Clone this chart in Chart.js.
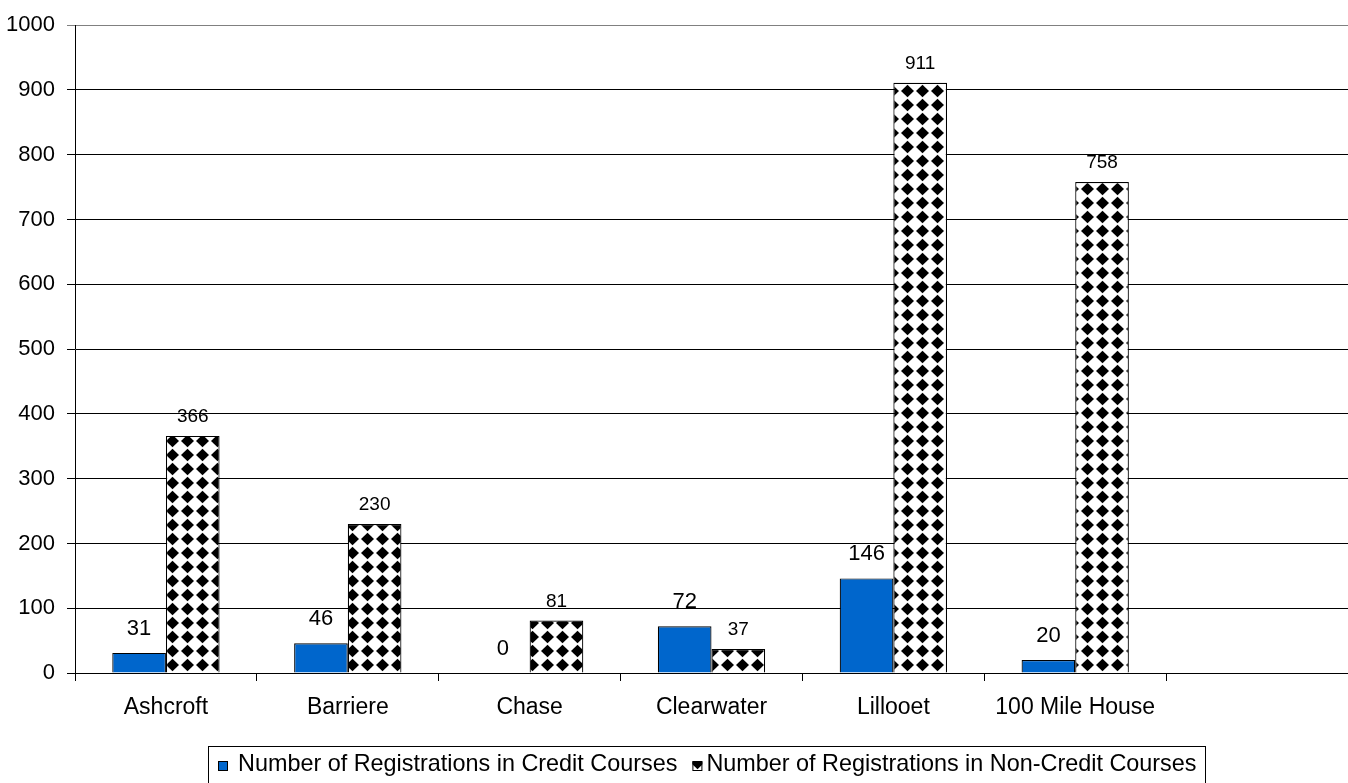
<!DOCTYPE html>
<html><head><meta charset="utf-8">
<script src="https://cdn.jsdelivr.net/npm/chart.js@4/dist/chart.umd.min.js"></script>
<style>html,body{margin:0;padding:0;background:#fff;overflow:hidden}#wrap{position:relative;width:1348px;height:783px}</style>
</head><body><div id="wrap"><canvas id="c" width="1348" height="783"></canvas></div>
<script>
const categories = ['Ashcroft', 'Barriere', 'Chase', 'Clearwater', 'Lillooet', '100 Mile House', ''];
const creditValues = [31, 46, 0, 72, 146, 20, null];
const nonCreditValues = [366, 230, 81, 37, 911, 758, null];
const seriesNames = ['Number of Registrations in Credit Courses', 'Number of Registrations in Non-Credit Courses'];
const yMin = 0, yMax = 1000, yStep = 100;

const FONT = "'Liberation Sans', Arial, sans-serif";
const canvas = document.getElementById('c');
const ctx = canvas.getContext('2d');

function makeTile() {
  const t = document.createElement('canvas');
  t.width = 15; t.height = 14;
  const g = t.getContext('2d');
  g.fillStyle = '#fff'; g.fillRect(0, 0, 15, 14);
  g.fillStyle = '#000';
  g.beginPath();
  g.moveTo(7.5, 0.8); g.lineTo(14.0, 7); g.lineTo(7.5, 13.2); g.lineTo(1.0, 7);
  g.closePath(); g.fill();
  return t;
}
const tile = makeTile();
const diamondPattern = ctx.createPattern(tile, 'repeat');

const labelPlugin = {
  id: 'valueLabels',
  afterDatasetsDraw(chart) {
    const c = chart.ctx;
    const base = chart.scales.y.getPixelForValue(0);
    c.save();
    c.fillStyle = '#000';
    c.textAlign = 'center';
    c.textBaseline = 'alphabetic';
    chart.data.datasets.forEach((ds, di) => {
      const meta = chart.getDatasetMeta(di);
      meta.data.forEach((el, i) => {
        const v = ds.data[i];
        if (v === null || v === undefined) return;
        let y;
        if (di === 0) {
          c.font = '22px ' + FONT;
          y = Math.min(el.y - 18, base - 7);
        } else {
          c.font = '19px ' + FONT;
          y = el.y - 14;
        }
        c.fillText(String(v), el.x, y);
      });
    });
    c.restore();
  }
};

const legendPlugin = {
  id: 'boxLegend',
  afterDraw(chart) {
    const c = chart.ctx;
    c.save();
    c.font = '23.4px ' + FONT;
    const w1 = c.measureText(seriesNames[0]).width;
    const w2 = c.measureText(seriesNames[1]).width;
    const total = 10 + 10 + 10 + w1 + 15 + 10 + 4 + w2 + 9;
    const left = 208.5;
    const top = 746.5;
    c.strokeStyle = '#000'; c.lineWidth = 1;
    c.strokeRect(left, top, Math.round(total), 60);
    let x = left + 9.5;
    c.fillStyle = '#0066CC';
    c.fillRect(x, 761, 10, 10);
    c.strokeRect(x + 0.5, 761.5, 9, 9);
    c.fillStyle = '#000';
    c.textBaseline = 'middle';
    c.textAlign = 'left';
    x += 20;
    c.fillText(seriesNames[0], x, 765);
    x += w1 + 15;
    c.fillStyle = diamondPattern;
    c.fillRect(x, 761, 10, 10);
    c.strokeRect(x + 0.5, 761.5, 9, 9);
    c.fillStyle = '#000';
    x += 14;
    c.fillText(seriesNames[1], x, 765);
    c.restore();
  }
};

new Chart(ctx, {
  type: 'bar',
  data: {
    labels: categories,
    datasets: [
      { label: seriesNames[0], data: creditValues, backgroundColor: '#0066CC', borderColor: '#000', borderWidth: 1.2,
        categoryPercentage: 0.59, barPercentage: 1 },
      { label: seriesNames[1], data: nonCreditValues, backgroundColor: diamondPattern, borderColor: '#000', borderWidth: 1.2,
        categoryPercentage: 0.59, barPercentage: 1 }
    ]
  },
  options: {
    responsive: false, animation: false, devicePixelRatio: 1,
    layout: { autoPadding: false, padding: { top: 21, right: 0, bottom: 0, left: 0 } },
    plugins: { legend: { display: false }, tooltip: { enabled: false } },
    scales: {
      x: {
        grid: { display: true, drawOnChartArea: false, drawTicks: true, tickLength: 8, color: '#000', offset: true },
        border: { color: '#000', width: 1 },
        ticks: { color: '#000', font: { family: FONT, size: 23 }, padding: 13, maxRotation: 0, autoSkip: false },
        afterFit(s) { s.height = 110; }
      },
      y: {
        min: yMin, max: yMax,
        grid: { color: (c) => (c.tick && c.tick.value === yMax) ? '#808080' : '#000', tickLength: 8 },
        border: { color: '#000', width: 1 },
        ticks: { stepSize: yStep, color: '#000', font: { family: FONT, size: 22 }, padding: 12,
                 callback: (v) => String(v) },
        afterFit(s) { s.width = 75; }
      }
    }
  },
  plugins: [labelPlugin, legendPlugin]
});
</script>
</body></html>
